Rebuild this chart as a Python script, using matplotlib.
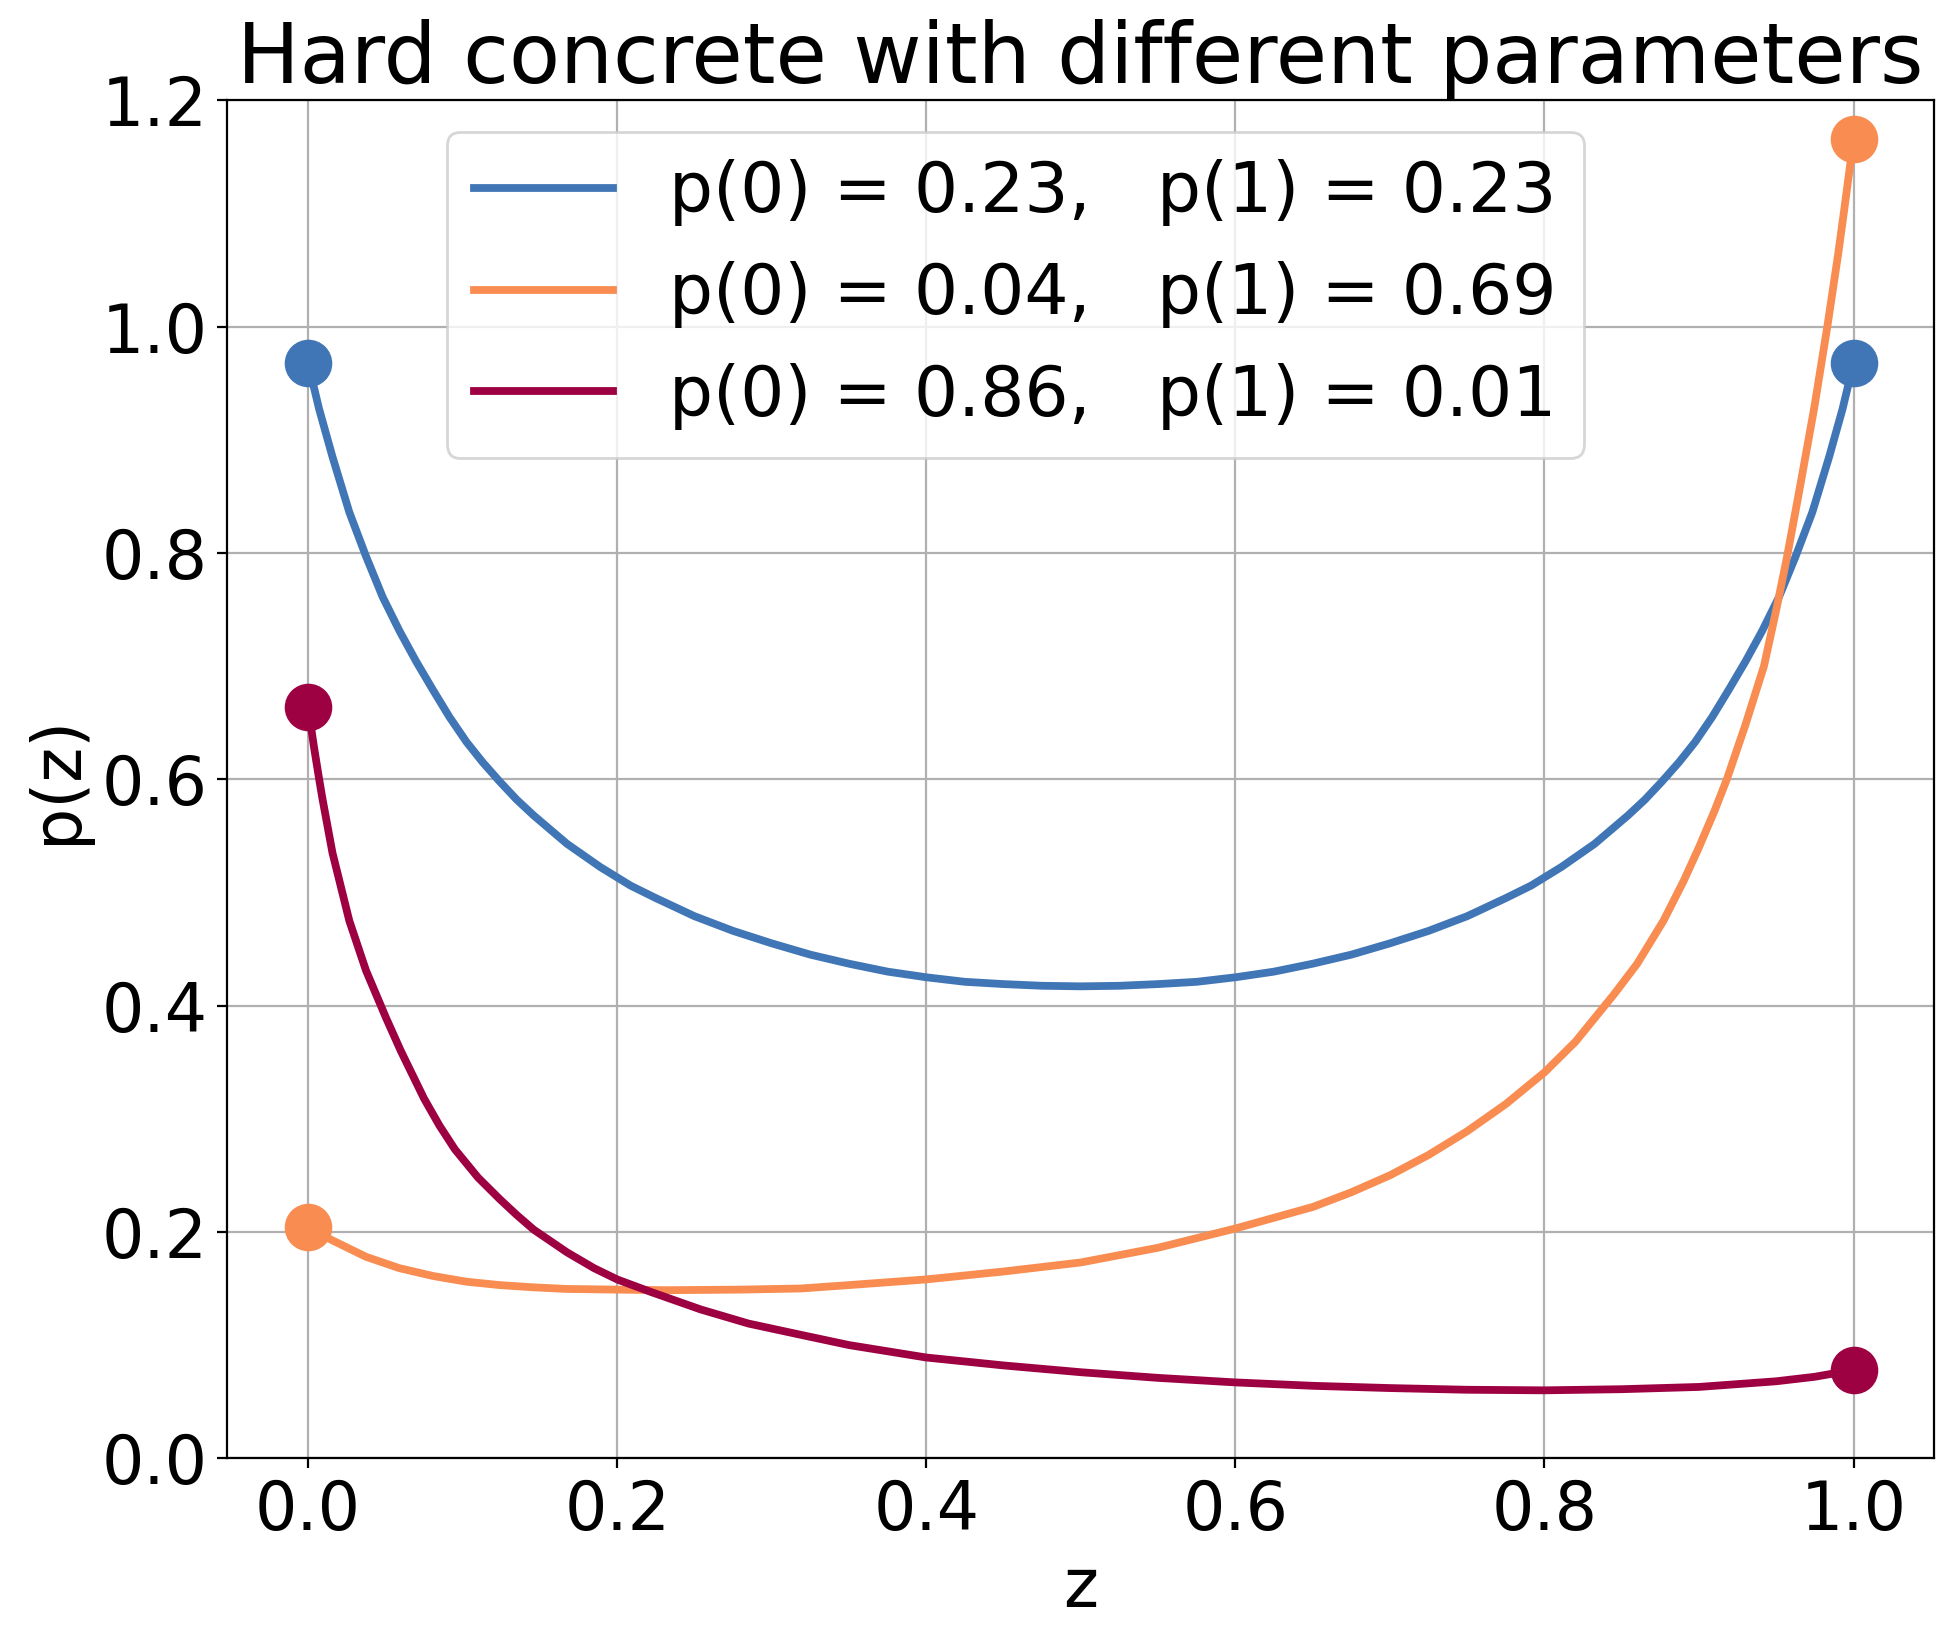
import numpy as np
import matplotlib
matplotlib.use('Agg')
import matplotlib.pyplot as plt

matplotlib.rcParams['font.size'] = 24

# values
z_blue = [0, 0.0072, 0.0158, 0.0267, 0.0375, 0.0483, 0.0592, 0.07, 0.0808, 0.0915, 0.1025,
          0.113, 0.124, 0.135, 0.146, 0.1675, 0.189, 0.2087, 0.225, 0.25, 0.275, 0.3, 0.325,
          0.35, 0.375, 0.4, 0.425, 0.45, 0.475, 0.5,
          0.525, 0.55, 0.575, 0.6, 0.625, 0.65, 0.675, 0.7, 0.725, 0.75, 0.775, 0.7913, 0.811,
          0.8325, 0.854, 0.865, 0.876, 0.887, 0.8975, 0.9085, 0.9192, 0.93, 0.9408, 0.9517,
          0.9625, 0.9733, 0.9842, 0.9928, 1.0]
p_blue = [0.968, 0.927, 0.885, 0.836, 0.797, 0.761, 0.731, 0.704, 0.679, 0.655, 0.633,
          0.615, 0.598, 0.582, 0.568, 0.543, 0.5225, 0.506, 0.495, 0.479, 0.466, 0.455, 0.445,
          0.437, 0.430, 0.425, 0.421, 0.419, 0.4175, 0.417,
          0.4175, 0.419, 0.421, 0.425, 0.430, 0.437, 0.445, 0.455, 0.466, 0.479, 0.495, 0.506, 0.5225,
          0.543, 0.568, 0.582, 0.598, 0.615, 0.633, 0.655, 0.679, 0.704, 0.731, 0.761,
          0.797, 0.836, 0.885, 0.927, 0.968]

z_orange = [0, 0.005, 0.0158, 0.0375, 0.059, 0.081, 0.1025, 0.124, 0.146, 0.167, 0.2, 0.232,
            0.28, 0.319, 0.35, 0.4, 0.45, 0.5, 0.55, 0.6, 0.65, 0.675, 0.7, 0.725, 0.75, 0.775,
            0.8, 0.82, 0.845, 0.86, 0.877, 0.89, 0.9, 0.91, 0.918, 0.93, 0.942, 0.95, 0.957,
            0.965, 0.9745, 0.983, 0.99, 0.994, 1.0]
p_orange = [0.204, 0.200, 0.1925, 0.178, 0.168, 0.161, 0.156, 0.153, 0.151, 0.1496, 0.149, 0.1485,
            0.149, 0.150, 0.153, 0.158, 0.165, 0.173, 0.186, 0.203, 0.222, 0.235, 0.25, 0.268, 0.289, 0.313,
            0.341, 0.368, 0.41, 0.437, 0.475, 0.51, 0.54, 0.572, 0.60, 0.648, 0.70, 0.75, 0.797,
            0.856, 0.928, 1.0, 1.064, 1.104, 1.166]

z_red = [0, 0.0039, 0.0072, 0.0093, 0.0158, 0.0267, 0.0375, 0.0505, 0.06, 0.075, 0.085, 0.095,
         0.11, 0.124, 0.135, 0.146, 0.1675, 0.185, 0.2, 0.2217, 0.254, 0.285, 0.319, 0.35, 0.4,
         0.45, 0.5, 0.55, 0.6, 0.65, 0.7, 0.75, 0.8, 0.85, 0.9, 0.95, 0.975, 1.0]
p_red = [0.664, 0.628, 0.60, 0.583, 0.535, 0.475, 0.431, 0.389, 0.36, 0.318, 0.294, 0.273,
         0.248, 0.229, 0.215, 0.202, 0.182, 0.168, 0.158, 0.147, 0.1315, 0.119, 0.109, 0.100, 0.089,
         0.082, 0.076, 0.071, 0.067, 0.064, 0.062, 0.0605, 0.060, 0.061, 0.063, 0.068, 0.072, 0.078]

labels = ['p(0) = 0.23,   p(1) = 0.23',
          'p(0) = 0.04,   p(1) = 0.69',
          'p(0) = 0.86,   p(1) = 0.01']
colors = ['#4176b6', '#f88c51', '#9e0142']

fig = plt.figure(figsize=(9.78, 8.22), dpi=200)
ax = fig.add_axes([0.116, 0.113, 0.8725, 0.826])

curves = [(z_blue, p_blue), (z_orange, p_orange), (z_red, p_red)]
for (z, p), c, lab in zip(curves, colors, labels):
    ax.plot(z, p, color=c, lw=2.8, label=lab, solid_joinstyle='round')
    ax.scatter([z[0], z[-1]], [p[0], p[-1]], s=260, color=c, zorder=3)

ax.set_xlim(-0.0525, 1.0517)
ax.set_ylim(0, 1.2)
ax.grid(True)
ax.set_title('Hard concrete with different parameters', fontsize=30)
ax.set_xlabel('z')
ax.set_ylabel('p(z)')
ax.legend(loc='upper left', bbox_to_anchor=(0.1287, 0.977), borderaxespad=0, fontsize=25)

plt.savefig('out.png', dpi=200)
